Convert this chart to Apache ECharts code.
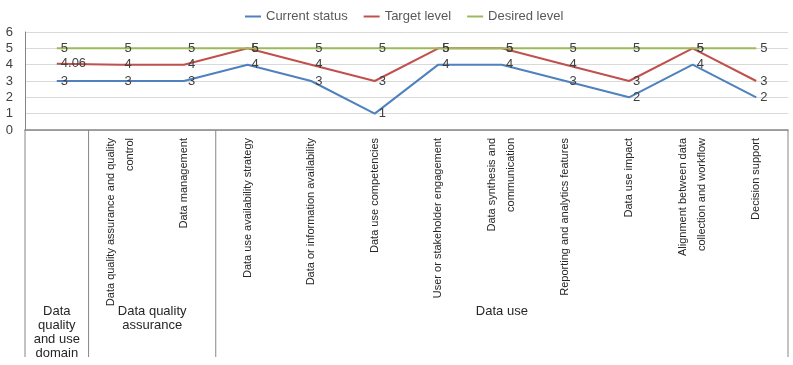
<!DOCTYPE html>
<html>
<head>
<meta charset="utf-8">
<script src="https://cdn.jsdelivr.net/npm/echarts@6/dist/echarts.min.js"></script>
<style>
  html, body { margin: 0; padding: 0; background: #fff; }
  #chart { width: 793px; height: 365px; }
</style>
</head>
<body>
<div id="chart"></div>
<script>
const categories = [
  '',
  'Data quality assurance and quality\ncontrol',
  'Data management',
  'Data use availability strategy',
  'Data or information availability',
  'Data use competencies',
  'User or stakeholder engagement',
  'Data synthesis and\ncommunication',
  'Reporting and analytics features',
  'Data use impact',
  'Alignment between data\ncollection and workflow',
  'Decision support'
]
const currentStatus = [3, 3, 3, 4, 3, 1, 4, 4, 3, 2, 4, 2]
const targetLevel = [4.06, 4, 4, 5, 4, 3, 5, 5, 4, 3, 5, 3]
const desiredLevel = [5, 5, 5, 5, 5, 5, 5, 5, 5, 5, 5, 5]
// outer category level: label and how many categories it spans
const groupNames = ['Data\nquality\nand use\ndomain', 'Data quality\nassurance', 'Data use']
const groupSpans = [1, 2, 9]

const font = 'Liberation Sans, Arial, sans-serif'
const narrowFont = 'Liberation Sans Narrow, Liberation Sans, sans-serif'
const textColor = '#404040'
const lineColor = '#868686'

const chart = echarts.init(document.getElementById('chart'))

function lineSeries(name, data, color) {
  return {
    name,
    type: 'line',
    data,
    symbol: 'circle',
    symbolSize: 0,
    showSymbol: true,
    lineStyle: { color, width: 2 },
    itemStyle: { color },
    label: {
      show: true,
      position: 'right',
      distance: 4,
      color: textColor,
      fontFamily: font,
      fontSize: 13
    },
    emphasis: { disabled: true },
    z: 3
  }
}

chart.setOption({
  animation: false,
  textStyle: { fontFamily: font },
  legend: {
    top: 5,
    left: 240,
    itemWidth: 16,
    itemHeight: 2,
    itemGap: 16,
    icon: 'rect',
    textStyle: { color: '#595959', fontSize: 13, fontFamily: font },
    data: ['Current status', 'Target level', 'Desired level']
  },
  grid: { left: 25, right: 5, top: 32, bottom: 235 },
  xAxis: {
    type: 'category',
    data: categories,
    boundaryGap: true,
    axisLine: { lineStyle: { color: lineColor, width: 1.5 } },
    axisTick: { show: false },
    axisLabel: {
      rotate: 90,
      margin: 8,
      interval: 0,
      color: '#262626',
      fontFamily: narrowFont,
      fontSize: 11,
      lineHeight: 19
    }
  },
  yAxis: {
    type: 'value',
    min: 0,
    max: 6,
    interval: 1,
    axisLine: { show: true, lineStyle: { color: lineColor } },
    axisTick: { show: false },
    axisLabel: { color: textColor, fontSize: 13, fontFamily: font, margin: 12 },
    splitLine: { lineStyle: { color: '#d9d9d9' } }
  },
  series: [
    lineSeries('Current status', currentStatus, '#4f81bd'),
    lineSeries('Target level', targetLevel, '#c0504d'),
    lineSeries('Desired level', desiredLevel, '#9bbb59')
  ]
})

// draw the outer category level (group separators and names) from axis positions
function drawGroups() {
  const c0 = chart.convertToPixel({ xAxisIndex: 0 }, 0)
  const c1 = chart.convertToPixel({ xAxisIndex: 0 }, 1)
  const bw = c1 - c0
  const axisY = chart.convertToPixel({ yAxisIndex: 0 }, 0)
  const bottomY = 357
  const elements = []
  let start = 0
  const edge = (i) => c0 - bw / 2 + i * bw
  elements.push({
    type: 'line',
    shape: { x1: edge(0), y1: axisY, x2: edge(0), y2: bottomY },
    style: { stroke: lineColor, lineWidth: 1 }
  })
  groupNames.forEach((name, g) => {
    const end = start + groupSpans[g]
    elements.push({
      type: 'line',
      shape: { x1: edge(end), y1: axisY, x2: edge(end), y2: bottomY },
      style: { stroke: lineColor, lineWidth: 1 }
    })
    elements.push({
      type: 'text',
      x: (edge(start) + edge(end)) / 2,
      y: 304,
      style: {
        text: name,
        align: 'center',
        verticalAlign: 'top',
        fill: '#262626',
        font: '13px ' + font,
        lineHeight: 14
      }
    })
    start = end
  })
  chart.setOption({ graphic: { elements } })
}

drawGroups()
</script>
</body>
</html>
